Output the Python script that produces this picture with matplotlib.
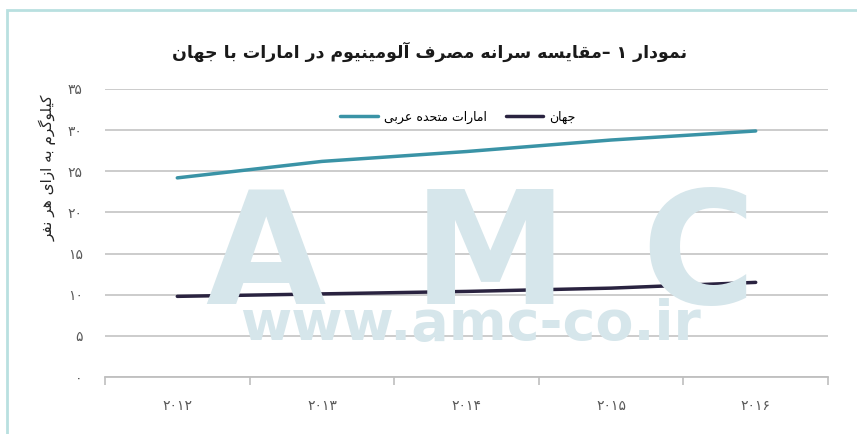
import matplotlib
matplotlib.use('Agg')
import matplotlib.pyplot as plt
from matplotlib.patches import Rectangle

# simple persian shaping: (isolated, final, initial, medial)
FORMS = {
    'ا': ('\uFE8D', '\uFE8E', None, None),
    'آ': ('\uFE81', '\uFE82', None, None),
    'ب': ('\uFE8F', '\uFE90', '\uFE91', '\uFE92'),
    'ت': ('\uFE95', '\uFE96', '\uFE97', '\uFE98'),
    'ج': ('\uFE9D', '\uFE9E', '\uFE9F', '\uFEA0'),
    'ح': ('\uFEA1', '\uFEA2', '\uFEA3', '\uFEA4'),
    'د': ('\uFEA9', '\uFEAA', None, None),
    'ر': ('\uFEAD', '\uFEAE', None, None),
    'ز': ('\uFEAF', '\uFEB0', None, None),
    'س': ('\uFEB1', '\uFEB2', '\uFEB3', '\uFEB4'),
    'ص': ('\uFEB9', '\uFEBA', '\uFEBB', '\uFEBC'),
    'ع': ('\uFEC9', '\uFECA', '\uFECB', '\uFECC'),
    'ف': ('\uFED1', '\uFED2', '\uFED3', '\uFED4'),
    'ق': ('\uFED5', '\uFED6', '\uFED7', '\uFED8'),
    'ل': ('\uFEDD', '\uFEDE', '\uFEDF', '\uFEE0'),
    'م': ('\uFEE1', '\uFEE2', '\uFEE3', '\uFEE4'),
    'ن': ('\uFEE5', '\uFEE6', '\uFEE7', '\uFEE8'),
    'ه': ('\uFEE9', '\uFEEA', '\uFEEB', '\uFEEC'),
    'و': ('\uFEED', '\uFEEE', None, None),
    'ی': ('\uFBFC', '\uFBFD', '\uFBFE', '\uFBFF'),
    'ک': ('\uFB8E', '\uFB8F', '\uFB90', '\uFB91'),
    'گ': ('\uFB92', '\uFB93', '\uFB94', '\uFB95'),
}


def fa(text):
    out = []
    for i, ch in enumerate(text):
        if ch not in FORMS:
            out.append(ch)
            continue
        prev = text[i - 1] if i > 0 else ''
        nxt = text[i + 1] if i < len(text) - 1 else ''
        iso, fin, ini, med = FORMS[ch]
        join_prev = prev in FORMS and FORMS[prev][2] is not None
        join_next = ini is not None and nxt in FORMS
        if join_prev and join_next:
            out.append(med)
        elif join_prev:
            out.append(fin)
        elif join_next:
            out.append(ini)
        else:
            out.append(iso)
    return ''.join(out)[::-1]


years = ['۲۰۱۲', '۲۰۱۳', '۲۰۱۴', '۲۰۱۵', '۲۰۱۶']
uae = [24.2, 26.2, 27.4, 28.8, 29.9]
world = [9.8, 10.1, 10.4, 10.8, 11.5]
yticks = [0, 5, 10, 15, 20, 25, 30, 35]
ytick_labels = ['۰', '۵', '۱۰', '۱۵', '۲۰', '۲۵', '۳۰', '۳۵']

title = 'نمودار ۱ –مقایسه سرانه مصرف آلومینیوم در امارات با جهان'
ylabel = 'کیلوگرم به ازای هر نفر'
uae_label = 'امارات متحده عربی'
world_label = 'جهان'

plt.rcParams['font.family'] = ['DejaVu Sans']

fig = plt.figure(figsize=(8.57, 4.34), dpi=100)
ax = fig.add_axes([105 / 857, 1 - 377 / 434, 723 / 857, 288 / 434])

# frame around the picture
fig.patches.append(Rectangle((7 / 857, -0.1), 1.2, 1 - 10 / 434 + 0.1,
                             transform=fig.transFigure, fill=False,
                             edgecolor='#b9e0e0', linewidth=2))

# watermark
wm = '#d6e6eb'
for letter, xc in zip('AMC', [265, 490, 698]):
    fig.text(xc / 857, (434 - 304) / 434, letter, fontsize=112, fontweight='bold',
             color=wm, ha='center', va='baseline', zorder=0)
fig.text(470 / 857, (434 - 340) / 434, 'www.amc-co.ir', fontsize=40,
         fontweight='bold', color=wm, ha='center', va='baseline', zorder=0)

ax.patch.set_alpha(0)
x = list(range(len(years)))
ax.plot(x, uae, color='#3a93a6', linewidth=2.5, label=fa(uae_label), solid_capstyle='round')
ax.plot(x, world, color='#2a2340', linewidth=2.5, label=fa(world_label), solid_capstyle='round')

ax.set_xlim(-0.5, 4.5)
ax.set_ylim(0, 35)
ax.set_yticks(yticks)
ax.set_yticklabels(ytick_labels, color='#595959', fontsize=10)
ax.set_xticks(x)
ax.set_xticklabels(years, color='#595959', fontsize=10)
ax.set_xticks([i - 0.5 for i in range(len(years) + 1)], minor=True)
ax.tick_params(axis='y', length=0, pad=16)
ax.tick_params(axis='x', which='major', length=0, pad=16)
ax.tick_params(axis='x', which='minor', length=6, color='#bfbfbf', width=1.2)
ax.grid(axis='y', color='#c8c8c8', linewidth=1.3)
ax.set_axisbelow(True)
for s in ['top', 'right', 'left']:
    ax.spines[s].set_visible(False)
ax.spines['bottom'].set_color('#bfbfbf')
ax.spines['bottom'].set_linewidth(1.3)

fig.text(48 / 857, 1 - 168 / 434, fa(ylabel), rotation=90, fontsize=11,
         ha='center', va='center', color='#262626')
fig.text(430 / 857, 1 - 52 / 434, fa(title), fontsize=12.5, fontweight='bold',
         ha='center', va='center', color='#1a1a1a')

ax.legend(loc='center', bbox_to_anchor=(458 / 857, 1 - 117 / 434),
          bbox_transform=fig.transFigure, ncol=2, frameon=False, fontsize=9,
          handlelength=3, columnspacing=1.5, handletextpad=0.5)

fig.savefig('out.png', dpi=100)
